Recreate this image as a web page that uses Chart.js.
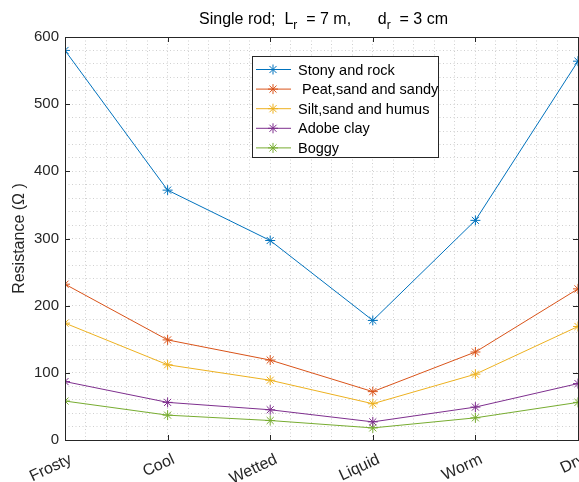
<!DOCTYPE html>
<html>
<head>
<meta charset="utf-8">
<script src="https://cdn.jsdelivr.net/npm/chart.js@4.4.1/dist/chart.umd.min.js"></script>
<style>
  html, body { margin: 0; padding: 0; background: #fff; overflow: hidden; }
  #wrap { width: 579px; height: 482px; overflow: hidden; }
</style>
</head>
<body>
<div id="wrap"><canvas id="chart" width="620" height="482"></canvas></div>
<script>
// Grounding resistance of a single rod per soil condition
const categories = ['Frosty', 'Cool', 'Wetted', 'Liquid', 'Worm', 'Dry'];
const stonyRock = [580, 372, 297, 178, 327, 564];
const peatSand  = [232, 149, 119, 72, 131, 225];
const siltHumus = [174, 112, 89, 54, 98, 169];
const adobeClay = [87, 56, 45, 27, 49, 84];
const boggy     = [58, 37, 29, 18, 33, 56];
const yTicks = [0, 100, 200, 300, 400, 500, 600];

const FONT = 'Arial, "Liberation Sans", Helvetica, sans-serif';
const INK = '#262626';

function series(label, values, color) {
  return {
    label,
    data: values.map((v, i) => ({ x: i, y: v })),
    borderColor: color,
    backgroundColor: color,
    borderWidth: 1,
    pointStyle: 'star',
    pointRadius: 5,
    pointBorderWidth: 1,
    pointBorderColor: color,
    tension: 0,
  };
}

function star(ctx, x, y, r) {
  const d = r * Math.SQRT1_2;
  ctx.beginPath();
  ctx.moveTo(x - r, y); ctx.lineTo(x + r, y);
  ctx.moveTo(x, y - r); ctx.lineTo(x, y + r);
  ctx.moveTo(x - d, y - d); ctx.lineTo(x + d, y + d);
  ctx.moveTo(x - d, y + d); ctx.lineTo(x + d, y - d);
  ctx.stroke();
}

// title with subscripts (Chart.js title can't do them)
const titlePlugin = {
  id: 'subTitle',
  afterDraw(chart) {
    const ctx = chart.ctx;
    const parts = [
      ['Single rod;  L', false], ['r', true], ['  = 7 m,      d', false], ['r', true], ['  = 3 cm', false],
    ];
    const big = '16px ' + FONT, small = '12px ' + FONT;
    ctx.save();
    ctx.fillStyle = '#000';
    ctx.textBaseline = 'alphabetic';
    let w = 0;
    parts.forEach(([t, sub]) => { ctx.font = sub ? small : big; w += ctx.measureText(t).width; });
    const a = chart.chartArea;
    let x = (a.left + a.right) / 2 - w / 2 + 2;
    parts.forEach(([t, sub]) => {
      ctx.font = sub ? small : big;
      ctx.fillText(t, x, sub ? 29 : 24);
      x += ctx.measureText(t).width;
    });
    ctx.restore();
  }
};

// box, inward ticks on all four sides, inset legend
const axesPlugin = {
  id: 'matlabAxes',
  afterDraw(chart) {
    const ctx = chart.ctx;
    const a = chart.chartArea;
    const xs = chart.scales.x, ys = chart.scales.y;
    const tl = 5;
    ctx.save();
    ctx.strokeStyle = INK;
    ctx.lineWidth = 1;
    ctx.beginPath();
    categories.forEach((c, i) => {
      const px = Math.round(xs.getPixelForValue(i)) + 0.5;
      ctx.moveTo(px, a.bottom); ctx.lineTo(px, a.bottom - tl);
      ctx.moveTo(px, a.top); ctx.lineTo(px, a.top + tl);
    });
    yTicks.forEach(v => {
      const py = Math.round(ys.getPixelForValue(v)) + 0.5;
      ctx.moveTo(a.left, py); ctx.lineTo(a.left + tl, py);
      ctx.moveTo(a.right, py); ctx.lineTo(a.right - tl, py);
    });
    ctx.stroke();
    ctx.strokeRect(Math.round(a.left) + 0.5, Math.round(a.top) + 0.5,
      Math.round(a.right - a.left), Math.round(a.bottom - a.top));

    // legend
    const lx = 252, ly = 56, lw = 186, lh = 101;
    ctx.fillStyle = '#fff';
    ctx.fillRect(lx, ly, lw, lh);
    ctx.strokeStyle = INK;
    ctx.strokeRect(lx + 0.5, ly + 0.5, lw, lh);
    ctx.font = '14.5px ' + FONT;
    ctx.textBaseline = 'middle';
    chart.data.datasets.forEach((ds, i) => {
      const y = ly + 13.5 + i * 19.6;
      ctx.strokeStyle = ds.borderColor;
      ctx.beginPath();
      ctx.moveTo(lx + 4, y); ctx.lineTo(lx + 39, y);
      ctx.stroke();
      star(ctx, lx + 21, y, 5);
      ctx.fillStyle = '#000';
      ctx.fillText(ds.label, lx + 46, y + 1);
    });
    ctx.restore();
  }
};

new Chart(document.getElementById('chart'), {
  type: 'line',
  data: {
    datasets: [
      series('Stony and rock', stonyRock, '#0072BD'),
      series(' Peat,sand and sandy', peatSand, '#D95319'),
      series('Silt,sand and humus', siltHumus, '#EDB120'),
      series('Adobe clay', adobeClay, '#7E2F8E'),
      series('Boggy', boggy, '#77AC30'),
    ],
  },
  options: {
    responsive: false,
    animation: false,
    layout: { padding: { top: 37, right: 42, left: 0, bottom: 0 } },
    plugins: { legend: { display: false }, tooltip: { enabled: false } },
    scales: {
      x: {
        type: 'linear',
        min: 0,
        max: categories.length - 1,
        afterFit: s => { s.height = 42; },
        grid: { color: '#d0d0d0', drawTicks: false },
        border: { display: false, dash: [1, 2.5] },
        ticks: {
          stepSize: 0.2,
          autoSkip: false,
          maxRotation: 25,
          minRotation: 25,
          padding: 10,
          labelOffset: 6,
          color: INK,
          font: { family: FONT, size: 16 },
          callback: v => {
            const i = Math.round(v);
            return Math.abs(v - i) < 1e-6 ? categories[i] : '';
          },
        },
      },
      y: {
        min: 0,
        max: 600,
        afterFit: s => { s.width = 65; },
        grid: { color: '#d0d0d0', drawTicks: false },
        border: { display: false, dash: [1, 2.5] },
        ticks: {
          stepSize: 20,
          autoSkip: false,
          padding: 6,
          color: INK,
          font: { family: FONT, size: 15 },
          callback: v => (v % 100 === 0 ? v : ''),
        },
        title: {
          display: true,
          text: 'Resistance (Ω )',
          color: INK,
          font: { family: FONT, size: 16 },
          padding: { top: 10, bottom: 0 },
        },
      },
    },
  },
  plugins: [titlePlugin, axesPlugin],
});
</script>
</body>
</html>
